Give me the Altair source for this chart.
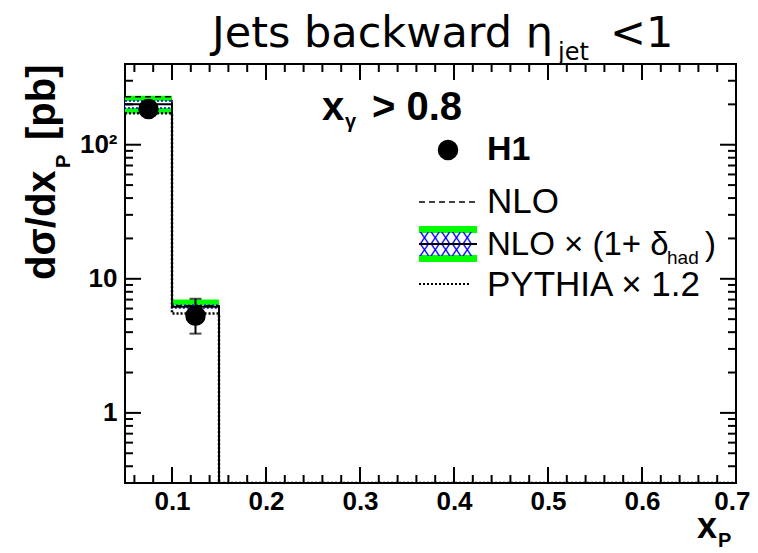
import altair as alt
import pandas as pd

# ---- data ----
bin_lo = [0.05, 0.10]
bin_hi = [0.10, 0.15]
h1_x = [0.075, 0.125]
h1_y = [185.0, 5.3]
h1_lo = [172.0, 3.9]
h1_hi = [200.0, 7.1]
nlo = [228.0, 6.3]
nlo_had = [200.0, 6.2]
band_lo = [170.0, 6.15]
band_hi = [232.0, 7.0]
hatch_lo = [188.0, 6.05]
hatch_hi = [212.0, 6.35]
pythia = [172.0, 5.5]

x_major = [0.1, 0.2, 0.3, 0.4, 0.5, 0.6, 0.7]
x_minor = [0.06, 0.08, 0.12, 0.14, 0.16, 0.18, 0.22, 0.24, 0.26, 0.28,
           0.32, 0.34, 0.36, 0.38, 0.42, 0.44, 0.46, 0.48, 0.52, 0.54,
           0.56, 0.58, 0.62, 0.64, 0.66, 0.68]
y_major = [1, 10, 100]
y_minor = [0.3, 0.4, 0.5, 0.6, 0.7, 0.8, 0.9, 2, 3, 4, 5, 6, 7, 8, 9,
           20, 30, 40, 50, 60, 70, 80, 90, 200, 300, 400]

x_dom = [0.05, 0.7]
y_dom = [0.3, 400]

W, H = 611, 419
SANS = "Liberation Sans"

xscale = alt.Scale(domain=x_dom, nice=False, zero=False)
yscale = alt.Scale(type="log", domain=y_dom, nice=False)

xaxis = alt.Axis(values=x_major, format=".1f", labelFont=SANS, labelFontWeight="bold",
                 labelFontSize=26, labelColor="black", ticks=False, tickSize=0,
                 domain=False, grid=False, labelPadding=5, labelFlush=True,
                 labelFlushOffset=14, title=None)
yaxis = alt.Axis(values=y_major, labelExpr="datum.value >= 100 ? '10²' : format(datum.value, 'd')",
                 labelFont=SANS, labelFontWeight="bold", labelFontSize=26, labelColor="black",
                 ticks=False, tickSize=0, domain=False, grid=False, labelPadding=8, title=None)


def X(f):
    return alt.X(f, type="quantitative", scale=xscale, axis=xaxis, title=None)


def Y(f):
    return alt.Y(f, type="quantitative", scale=yscale, axis=yaxis, title=None)


# bands
bands = pd.DataFrame({"lo": bin_lo, "hi": bin_hi, "blo": band_lo, "bhi": band_hi,
                      "hlo": hatch_lo, "hhi": hatch_hi})
green = alt.Chart(bands).mark_rect(color="#00ff00").encode(
    x=X("lo"), x2="hi", y=Y("blo"), y2="bhi")
hatch = alt.Chart(bands).mark_rect(fill="white", stroke="blue", strokeWidth=1.5,
                                    strokeDash=[2, 2]).encode(
    x=X("lo"), x2="hi", y=Y("hlo"), y2="hhi")


def step(vals):
    xs = [bin_lo[0]] + bin_hi + [x_dom[1]]
    ys = list(vals) + [y_dom[0], y_dom[0]]
    return pd.DataFrame({"x": xs, "y": ys})


had_line = alt.Chart(step(nlo_had)).mark_line(interpolate="step-after", color="black",
                                               strokeWidth=2, clip=True).encode(
    x=X("x"), y=Y("y"))
nlo_line = alt.Chart(step(nlo)).mark_line(interpolate="step-after", color="black",
                                          strokeWidth=1.5, strokeDash=[6, 4], clip=True).encode(
    x=X("x"), y=Y("y"))
py_line = alt.Chart(step(pythia)).mark_line(interpolate="step-after", color="black",
                                            strokeWidth=2.5, strokeDash=[2, 2], clip=True).encode(
    x=X("x"), y=Y("y"))

pts = pd.DataFrame({"x": h1_x, "y": h1_y, "lo": h1_lo, "hi": h1_hi})
err = alt.Chart(pts).mark_rule(color="black", strokeWidth=2).encode(x=X("x"), y=Y("lo"), y2="hi")
cap_lo = alt.Chart(pts).mark_tick(orient="horizontal", color="black", size=12, thickness=2).encode(
    x=X("x"), y=Y("lo"))
cap_hi = alt.Chart(pts).mark_tick(orient="horizontal", color="black", size=12, thickness=2).encode(
    x=X("x"), y=Y("hi"))
dots = alt.Chart(pts).mark_circle(color="black", opacity=1, size=420).encode(x=X("x"), y=Y("y"))


def xticks(vals, length):
    d = pd.DataFrame({"v": vals})
    b = alt.Chart(d).mark_rule(color="black", strokeWidth=2).encode(
        x=X("v"), y=alt.value(H), y2=alt.value(H - length))
    t = alt.Chart(d).mark_rule(color="black", strokeWidth=2).encode(
        x=X("v"), y=alt.value(0), y2=alt.value(length))
    return [b, t]


def yticks(vals, length):
    d = pd.DataFrame({"v": vals})
    l = alt.Chart(d).mark_rule(color="black", strokeWidth=2).encode(
        y=Y("v"), x=alt.value(0), x2=alt.value(length))
    r = alt.Chart(d).mark_rule(color="black", strokeWidth=2).encode(
        y=Y("v"), x=alt.value(W), x2=alt.value(W - length))
    return [l, r]


ONE = pd.DataFrame({"a": [0]})


def txt(s, x, y, size, bold=False, font=SANS, angle=0, align="left", color="black"):
    kw = dict(text=s, fontSize=size, font=font, align=align, baseline="alphabetic",
              color=color, fontWeight="bold" if bold else "normal")
    if angle:
        kw["angle"] = angle
    return alt.Chart(ONE).mark_text(**kw).encode(x=alt.value(x), y=alt.value(y))


texts = [
    # title
    txt("Jets backward η", 87, -17, 43, font="DejaVu Sans"),
    txt("jet", 433, -4, 24, font="DejaVu Sans"),
    txt("<1", 485, -17, 43, font="DejaVu Sans"),
    # axis titles
    txt("x", 572, 474, 36, bold=True),
    txt("P", 593, 483, 20, bold=True),
    txt("dσ/dx", -70, 216, 40, bold=True, angle=270),
    txt("P", -55, 104, 20, bold=True, angle=270),
    txt("[pb]", -70, 76, 40, bold=True, angle=270),
    # cut label
    txt("x", 197, 56, 40, bold=True),
    txt("γ", 220, 64, 20, bold=True),
    txt("> 0.8", 337, 56, 40, bold=True, align="right"),
    # legend
    txt("H1", 362, 96, 34, bold=True),
    txt("NLO", 362, 149, 35),
    txt("NLO × (1+ δ", 362, 191, 33),
    txt("had", 542, 200, 19),
    txt(")", 580, 191, 33),
    txt("PYTHIA × 1.2", 362, 232, 35),
]

leg_dot = alt.Chart(ONE).mark_circle(color="black", opacity=1, size=420).encode(
    x=alt.value(323), y=alt.value(86))
leg_nlo = alt.Chart(ONE).mark_rule(color="black", strokeWidth=1.5, strokeDash=[6, 4]).encode(
    x=alt.value(294), x2=alt.value(352), y=alt.value(138))
leg_green = alt.Chart(ONE).mark_rect(color="#00ff00").encode(
    x=alt.value(294), x2=alt.value(352), y=alt.value(162), y2=alt.value(198))
leg_hatch = alt.Chart(ONE).mark_rect(color="white").encode(
    x=alt.value(294), x2=alt.value(352), y=alt.value(169), y2=alt.value(191))
leg_x1 = txt("XXXXX", 294, 180, 16, color="blue")
leg_x2 = txt("XXXXX", 294, 192, 16, color="blue")
leg_had = alt.Chart(ONE).mark_rule(color="black", strokeWidth=2).encode(
    x=alt.value(294), x2=alt.value(352), y=alt.value(180))
leg_py = alt.Chart(ONE).mark_rule(color="black", strokeWidth=2, strokeDash=[2, 2]).encode(
    x=alt.value(294), x2=alt.value(346), y=alt.value(220))

layers = ([green, hatch, had_line, nlo_line, py_line, err, cap_lo, cap_hi, dots]
          + xticks(x_major, 16) + xticks(x_minor, 8)
          + yticks(y_major, 16) + yticks(y_minor, 8)
          + [leg_dot, leg_nlo, leg_green, leg_hatch, leg_x1, leg_x2, leg_had, leg_py]
          + texts)

chart = alt.layer(*layers).properties(
    width=W, height=H,
    autosize=alt.AutoSizeParams(type="none"),
    padding={"left": 117, "top": 56, "right": 14, "bottom": 70},
    background="white",
).configure_view(stroke="black", strokeWidth=2)

chart.save("out.html", embed_options={"renderer": "svg", "actions": False})
